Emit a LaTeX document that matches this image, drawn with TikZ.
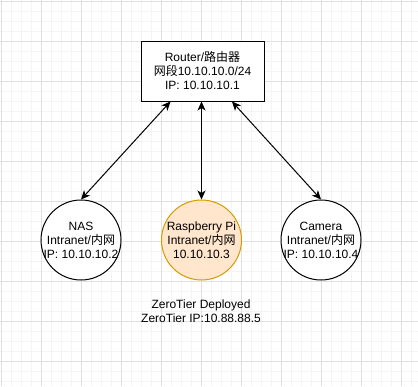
\documentclass[tikz,border=0pt]{standalone}
\usepackage{fontspec}
\setmainfont{Liberation Sans}
\newfontfamily\cjk{Noto Sans CJK SC}
\newcommand\zh[1]{{\cjk #1}}
\usetikzlibrary{arrows.meta, positioning}

\definecolor{gridmajor}{HTML}{E0E0E0}
\definecolor{gridminor}{HTML}{F4F4F4}
\definecolor{pifill}{HTML}{FFE6CC}
\definecolor{pidraw}{HTML}{D79B00}

\begin{document}
\begin{tikzpicture}[
    x=1pt, y=-1pt,
    >={Stealth[length=9pt, width=8pt, inset=2.5pt]},
    txt/.style={align=center, font=\fontsize{12}{14}\selectfont},
    box/.style={txt, draw, line width=1pt, fill=white,
                minimum width=123pt, minimum height=60pt},
    dev/.style={circle, draw, line width=1pt, fill=white,
                minimum size=80pt, inner sep=0pt},
    link/.style={<->, line width=1pt}
  ]
  \useasboundingbox (0,0) rectangle (418,386);
  \fill[white] (0,0) rectangle (418,386);

  % Grid
  \foreach \g in {11.5, 21.5, ..., 418} {
    \draw[gridminor, line width=1pt] (\g,0) -- (\g,386);
  }
  \foreach \g in {11.5, 21.5, ..., 386} {
    \draw[gridminor, line width=1pt] (0,\g) -- (418,\g);
  }
  \foreach \g in {1.5, 41.5, ..., 418} {
    \draw[gridmajor, line width=1pt] (\g,0) -- (\g,386);
  }
  \foreach \g in {1.5, 41.5, ..., 386} {
    \draw[gridmajor, line width=1pt] (0,\g) -- (418,\g);
  }

  % Router
  \node[box] (router) at (202.5, 71)
    {Router/\zh{路由器}\\\zh{网段}10.10.10.0/24\\IP: 10.10.10.1};

  % Devices
  \node[dev, label={[txt]center:NAS\\Intranet/\zh{内网}\\IP: 10.10.10.2}]
    (nas) at (81, 240) {};
  \node[dev, fill=pifill, draw=pidraw,
        label={[txt]center:Raspberry Pi\\Intranet/\zh{内网}\\10.10.10.3}]
    (pi) at (201.5, 240) {};
  \node[dev, label={[txt]center:Camera\\Intranet/\zh{内网}\\IP: 10.10.10.4}]
    (camera) at (321, 240) {};

  \node[txt] (zerotier) at (201, 311)
    {ZeroTier Deployed\\ZeroTier IP:10.88.88.5};

  % Links
  \draw[link] ([xshift=-32pt]router.south) -- (nas.north);
  \draw[link] (pi.north |- router.south) -- (pi.north);
  \draw[link] ([xshift=29.5pt]router.south) -- (camera.north);
\end{tikzpicture}
\end{document}
